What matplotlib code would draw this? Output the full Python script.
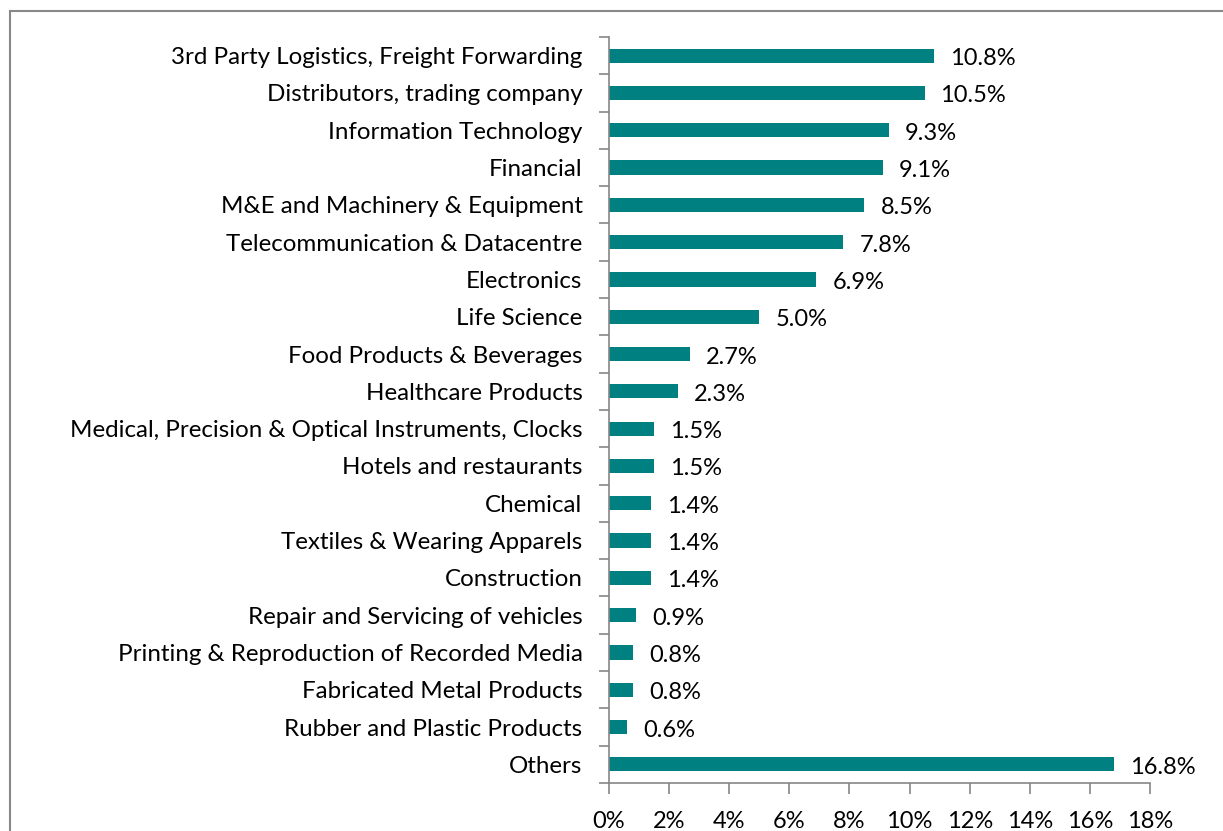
import matplotlib
matplotlib.use("Agg")
import matplotlib.pyplot as plt
from matplotlib.patches import Rectangle
import numpy as np

categories = [
    "3rd Party Logistics, Freight Forwarding",
    "Distributors, trading company",
    "Information Technology",
    "Financial",
    "M&E and Machinery & Equipment",
    "Telecommunication & Datacentre",
    "Electronics",
    "Life Science",
    "Food Products & Beverages",
    "Healthcare Products",
    "Medical, Precision & Optical Instruments, Clocks",
    "Hotels and restaurants",
    "Chemical",
    "Textiles & Wearing Apparels",
    "Construction",
    "Repair and Servicing of vehicles",
    "Printing & Reproduction of Recorded Media",
    "Fabricated Metal Products",
    "Rubber and Plastic Products",
    "Others",
]
values = [10.8, 10.5, 9.3, 9.1, 8.5, 7.8, 6.9, 5.0, 2.7, 2.3,
          1.5, 1.5, 1.4, 1.4, 1.4, 0.9, 0.8, 0.8, 0.6, 16.8]
xticks = [0, 2, 4, 6, 8, 10, 12, 14, 16, 18]

plt.rcParams['font.family'] = ['Lato', 'DejaVu Sans']
FS = 17
FS_CAT = 17.4

W, H = 1223, 831
fig = plt.figure(figsize=(W / 100, H / 100), dpi=100)
ax = fig.add_axes([609 / W, 1 - 783 / H, (1150 - 609) / W, (783 - 37) / H])

# outer frame (left and top visible)
fig.patches.append(Rectangle((10 / W, -0.1), 1.2, 1 - 11 / H + 0.1,
                             transform=fig.transFigure, fill=False,
                             edgecolor='#888888', linewidth=1.5))

n = len(categories)
y = np.arange(n)
ax.barh(y, values, height=0.38, color='#008080')
ax.set_ylim(n - 0.5, -0.5)
ax.set_xlim(0, 18)

ax.set_yticks(y)
ax.set_yticklabels(categories, fontsize=FS_CAT)
ax.set_yticks(np.arange(n + 1) - 0.5, minor=True)
ax.tick_params(axis='y', which='major', length=0, pad=19)
ax.tick_params(axis='y', which='minor', length=7, color='#868686', width=1.2)

ax.set_xticks(xticks)
ax.set_xticklabels([f"{t}%" for t in xticks], fontsize=FS)
ax.tick_params(axis='x', length=8, color='#868686', width=1.2, pad=12)

for s in ['top', 'right']:
    ax.spines[s].set_visible(False)
for s in ['left', 'bottom']:
    ax.spines[s].set_color('#868686')
    ax.spines[s].set_linewidth(1.2)

for yi, v in zip(y, values):
    ax.text(v + 0.53, yi + 0.08, f"{v:.1f}%", va='center', ha='left', fontsize=FS)

fig.savefig("out.png", dpi=100)
